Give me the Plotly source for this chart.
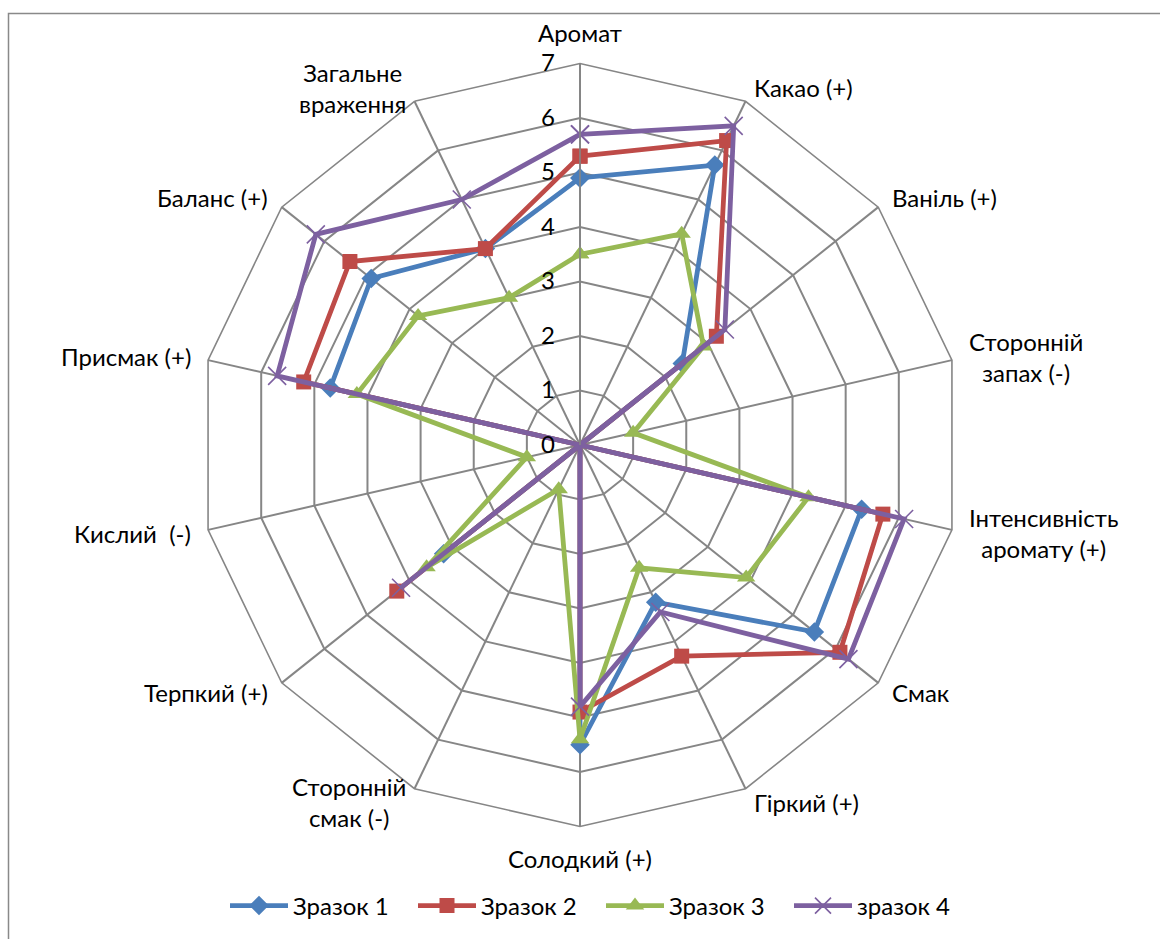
import math
import plotly.graph_objects as go

# Sensory attributes (clockwise from the top)
categories = [
    "Аромат", "Какао (+)", "Ваніль (+)", "Сторонній<br>запах (-)",
    "Інтенсивність<br>аромату (+)", "Смак", "Гіркий (+)", "Солодкий (+)",
    "Сторонній<br>смак (-)", "Терпкий (+)", "Кислий  (-)", "Присмак (+)",
    "Баланс (+)", "Загальне<br>враження",
]

series_names = ["Зразок 1", "Зразок 2", "Зразок 3", "зразок 4"]

sample1 = [4.9, 5.7, 2.4, 0.0, 5.3, 5.5, 3.2, 5.5, 0.0, 3.2, 0.0, 4.7, 4.9, 4.0]
sample2 = [5.3, 6.2, 3.2, 0.0, 5.7, 6.1, 4.3, 4.9, 0.0, 4.3, 0.0, 5.2, 5.4, 4.0]
sample3 = [3.5, 4.3, 2.9, 1.0, 4.3, 3.9, 2.5, 5.4, 0.9, 3.6, 1.0, 4.2, 3.8, 3.0]
sample4 = [5.7, 6.5, 3.4, 0.0, 6.1, 6.3, 3.4, 4.8, 0.0, 4.2, 0.0, 5.7, 6.2, 5.0]

radial_ticks = [0, 1, 2, 3, 4, 5, 6, 7]

colors = ["#4A7EBB", "#BE4B48", "#98B954", "#7D60A0"]
symbols = ["diamond", "square", "triangle-up", "x-thin"]
sizes = [15, 15, 16, 18]

FONT = "Lato"
FS = 24
W, H = 1160, 939

fig = go.Figure()
for name, vals, col, sym, sz in zip(series_names, [sample1, sample2, sample3, sample4],
                                    colors, symbols, sizes):
    fig.add_trace(go.Scatterpolar(
        r=vals + vals[:1],
        theta=categories + categories[:1],
        name=name,
        mode="lines+markers",
        line=dict(color=col, width=4.8),
        marker=dict(symbol=sym, size=sz, color=col,
                    line=dict(color=col, width=1.6 if sym == "x-thin" else 0)),
    ))

# polar area: centre (580, 445), outer radius about 381 px
cx, cy, rad = 580, 445, 381.5

# category captions placed just outside each polygon vertex
label_gap = 15
annotations = []
n = len(categories)
for i, cat in enumerate(categories):
    a = math.radians(i * 360 / n)
    sx, cyv = math.sin(a), math.cos(a)
    px = cx + (rad + label_gap) * sx
    py = cy - (rad + label_gap) * cyv
    if sx > 0.2:
        xa = "left"
    elif sx < -0.2:
        xa = "right"
    else:
        xa = "center"
    if abs(sx) <= 0.2:
        ya = "bottom" if cyv > 0 else "top"
    else:
        ya = "middle"
    annotations.append(dict(
        x=px / W, y=1 - py / H, xref="paper", yref="paper",
        text=cat, showarrow=False, xanchor=xa, yanchor=ya, align="center",
        font=dict(family=FONT, size=FS, color="black"),
    ))

fig.update_layout(
    width=W, height=H,
    margin=dict(l=0, r=0, t=0, b=0),
    paper_bgcolor="white",
    plot_bgcolor="white",
    font=dict(family=FONT, size=FS, color="black"),
    polar=dict(
        domain=dict(x=[(cx - rad) / W, (cx + rad) / W],
                    y=[(H - cy - rad) / H, (H - cy + rad) / H]),
        bgcolor="white",
        gridshape="linear",
        angularaxis=dict(
            direction="clockwise", rotation=90,
            categoryorder="array", categoryarray=categories,
            showline=True, linecolor="#868686", linewidth=1.6,
            gridcolor="#868686", gridwidth=1.6,
            ticks="", showticklabels=False,
        ),
        radialaxis=dict(
            range=[0, 7], tickvals=radial_ticks, angle=90, tickangle=90,
            side="counterclockwise",
            showline=True, linecolor="#868686", linewidth=1.6,
            gridcolor="#868686", gridwidth=1.6,
            ticks="outside", ticklen=16, tickcolor="rgba(0,0,0,0)",
            tickfont=dict(family=FONT, size=FS, color="black"),
        ),
    ),
    legend=dict(
        orientation="h", x=601 / W, xanchor="center", y=(H - 906) / H, yanchor="middle",
        font=dict(family=FONT, size=FS, color="black"),
        itemwidth=58, entrywidth=115, entrywidthmode="pixels",
    ),
    annotations=annotations,
    shapes=[dict(type="rect", xref="paper", yref="paper",
                 x0=8.5 / W, x1=1.02, y0=-0.02, y1=(H - 13.5) / H,
                 line=dict(color="#898989", width=1.5))],
    showlegend=True,
)

fig.write_html("out.html")
